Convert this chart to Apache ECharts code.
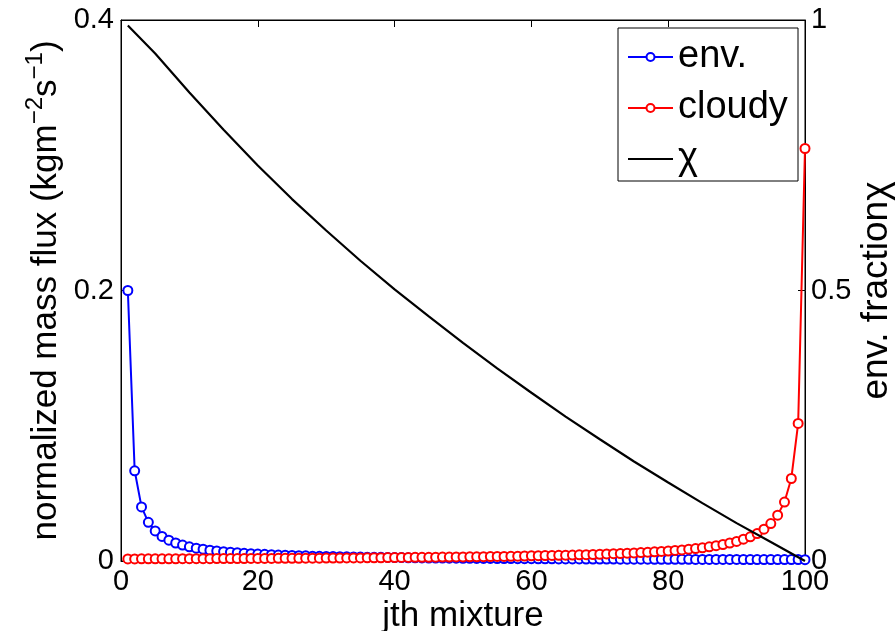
<!DOCTYPE html>
<html>
<head>
<meta charset="utf-8">
<script src="https://cdn.jsdelivr.net/npm/echarts@6/dist/echarts.min.js"></script>
<style>
  html, body { margin: 0; padding: 0; background: #fff; }
  #chart { width: 896px; height: 631px; }
</style>
</head>
<body>
<div id="chart"></div>
<script>
// Normalized mass flux of the environmental part, mixture j = 1..100
const envFlux = [
  0.2, 0.0667, 0.04, 0.0286, 0.0222, 0.0182, 0.0154, 0.0133, 0.0118, 0.0105,
  0.0095, 0.0087, 0.008, 0.0074, 0.0069, 0.0065, 0.0061, 0.0057, 0.0054, 0.0051,
  0.0049, 0.0047, 0.0044, 0.0043, 0.0041, 0.0039, 0.0038, 0.0036, 0.0035, 0.0034,
  0.0033, 0.0032, 0.0031, 0.003, 0.0029, 0.0028, 0.0027, 0.0027, 0.0026, 0.0025,
  0.0025, 0.0024, 0.0024, 0.0023, 0.0022, 0.0022, 0.0022, 0.0021, 0.0021, 0.002,
  0.00198, 0.00194, 0.0019, 0.00187, 0.00183, 0.0018, 0.00177, 0.00174, 0.00171, 0.00168,
  0.00165, 0.00163, 0.0016, 0.00157, 0.00155, 0.00153, 0.0015, 0.00148, 0.00146, 0.00144,
  0.00142, 0.0014, 0.00138, 0.00136, 0.00134, 0.00132, 0.00131, 0.00129, 0.00127, 0.00126,
  0.00124, 0.00123, 0.00121, 0.0012, 0.00118, 0.00117, 0.00116, 0.00114, 0.00113, 0.00112,
  0.0011, 0.00109, 0.00108, 0.00107, 0.00106, 0.00105, 0.00104, 0.00103, 0.00102, 0.00101
];

// Normalized mass flux of the cloudy part, mixture j = 1..100
const cloudyFlux = [
  0.0015, 0.0015, 0.0016, 0.0016, 0.0016, 0.0016, 0.0016, 0.0016, 0.0017, 0.0017,
  0.0017, 0.0017, 0.0017, 0.0018, 0.0018, 0.0018, 0.0018, 0.0018, 0.0019, 0.0019,
  0.0019, 0.0019, 0.002, 0.002, 0.002, 0.002, 0.0021, 0.0021, 0.0021, 0.0022,
  0.0022, 0.0022, 0.0023, 0.0023, 0.0023, 0.0024, 0.0024, 0.0024, 0.0025, 0.0025,
  0.0026, 0.0026, 0.0027, 0.0027, 0.0027, 0.0028, 0.0029, 0.0029, 0.003, 0.003,
  0.0031, 0.0031, 0.0032, 0.0033, 0.0034, 0.0034, 0.0035, 0.0036, 0.0037, 0.0038,
  0.0039, 0.004, 0.0041, 0.0042, 0.0043, 0.0044, 0.0046, 0.0047, 0.0048, 0.005,
  0.0052, 0.0054, 0.0055, 0.0058, 0.006, 0.0062, 0.0065, 0.0068, 0.0071, 0.0074,
  0.0078, 0.0082, 0.0087, 0.0092, 0.0098, 0.0105, 0.0113, 0.0122, 0.0133, 0.0145,
  0.0161, 0.0179, 0.0203, 0.0235, 0.0277, 0.0339, 0.0436, 0.061, 0.1017, 0.305
];

// Environmental fraction chi sampled along the mixtures
const chiIndex  = [1, 5, 10, 15, 20, 25, 30, 35, 40, 45, 50, 55, 60, 65, 70, 75, 80, 85, 90, 95, 100];
const chiValues = [0.99, 0.938, 0.866, 0.797, 0.731, 0.669, 0.611, 0.555, 0.502, 0.452, 0.403,
                   0.356, 0.311, 0.267, 0.225, 0.184, 0.145, 0.107, 0.070, 0.035, 0];

// Axis ticks
const xTicks     = [0, 20, 40, 60, 80, 100];
const fluxTicks  = [0, 0.2, 0.4];
const chiTicks   = [0, 0.5, 1];

const FONT = '"Liberation Sans", Arial, Helvetica, sans-serif';
const BLUE = '#0000ff';
const RED = '#ff0000';

const chart = echarts.init(document.getElementById('chart'), null, { renderer: 'canvas' });

const tickStyle = { inside: true, length: 7, lineStyle: { color: '#000', width: 1 } };
const lineAxis = { show: true, onZero: false, lineStyle: { color: '#000', width: 1 } };

chart.setOption({
  animation: false,
  backgroundColor: '#fff',
  grid: {
    left: 121, right: 91, top: 20, bottom: 70,
    containLabel: false,
    outerBoundsMode: 'none',
    show: true, borderColor: '#000', borderWidth: 1, backgroundColor: 'transparent'
  },
  legend: {
    orient: 'vertical',
    left: 627, top: 37,
    padding: 0,
    itemWidth: 45, itemHeight: 10, itemGap: 11,
    z: 20,
    textStyle: { fontSize: 38, fontFamily: FONT, color: '#000', lineHeight: 40 },
    data: ['env.', 'cloudy', { name: 'χ', itemStyle: { opacity: 0 } }]
  },
  graphic: [{
    type: 'rect',
    z: 10,
    shape: { x: 618, y: 28, width: 180, height: 153 },
    style: { fill: '#fff', stroke: '#000', lineWidth: 1 }
  }],
  xAxis: [{
    type: 'value',
    position: 'bottom',
    min: xTicks[0], max: xTicks[xTicks.length - 1], interval: xTicks[1] - xTicks[0],
    axisLine: lineAxis,
    axisTick: tickStyle,
    splitLine: { show: false },
    axisLabel: { fontSize: 29, fontFamily: FONT, color: '#000', margin: 6 },
    name: 'jth mixture',
    nameLocation: 'middle',
    nameGap: 38,
    nameMoveOverlap: false,
    nameTextStyle: { fontSize: 35, fontFamily: FONT, color: '#000' }
  }, {
    type: 'value',
    position: 'top',
    min: xTicks[0], max: xTicks[xTicks.length - 1], interval: xTicks[1] - xTicks[0],
    axisLine: lineAxis,
    axisTick: tickStyle,
    splitLine: { show: false },
    axisLabel: { show: false }
  }],
  yAxis: [{
    type: 'value',
    position: 'left',
    min: fluxTicks[0], max: fluxTicks[fluxTicks.length - 1], interval: fluxTicks[1] - fluxTicks[0],
    axisLine: lineAxis,
    axisTick: tickStyle,
    splitLine: { show: false },
    axisLabel: { fontSize: 29, fontFamily: FONT, color: '#000', margin: 7 },
    name: '{t|normalized mass flux (kgm}{u|−2}{t|s}{u|−1}{t|)}',
    nameLocation: 'middle',
    nameRotate: 90,
    nameGap: 52,
    nameMoveOverlap: false,
    nameTextStyle: {
      rich: {
        t: { fontSize: 35, fontFamily: FONT, color: '#000' },
        u: { fontSize: 24, fontFamily: FONT, color: '#000', padding: [0, 0, 22, 0] }
      }
    }
  }, {
    type: 'value',
    position: 'right',
    min: chiTicks[0], max: chiTicks[chiTicks.length - 1], interval: chiTicks[1] - chiTicks[0],
    axisLine: lineAxis,
    axisTick: tickStyle,
    splitLine: { show: false },
    axisLabel: { fontSize: 29, fontFamily: FONT, color: '#000', margin: 6 },
    name: 'env. fractionχ',
    nameLocation: 'middle',
    nameRotate: 90,
    nameGap: 53,
    nameMoveOverlap: false,
    nameTextStyle: { fontSize: 37, fontFamily: FONT, color: '#000' }
  }],
  series: [{
    name: 'env.',
    type: 'line',
    xAxisIndex: 0, yAxisIndex: 0,
    data: envFlux.map((v, i) => [i + 1, v]),
    symbol: 'emptyCircle', symbolSize: 9,
    lineStyle: { color: BLUE, width: 2 },
    itemStyle: { color: BLUE, borderColor: BLUE, borderWidth: 2 },
    z: 2
  }, {
    name: 'cloudy',
    type: 'line',
    xAxisIndex: 0, yAxisIndex: 0,
    data: cloudyFlux.map((v, i) => [i + 1, v]),
    symbol: 'emptyCircle', symbolSize: 9,
    lineStyle: { color: RED, width: 2 },
    itemStyle: { color: RED, borderColor: RED, borderWidth: 2 },
    z: 3
  }, {
    name: 'χ',
    type: 'line',
    xAxisIndex: 0, yAxisIndex: 1,
    data: chiIndex.map((x, i) => [x, chiValues[i]]),
    symbol: 'none',
    lineStyle: { color: '#000', width: 2.2 },
    itemStyle: { color: '#000' },
    z: 4
  }]
});
</script>
</body>
</html>
